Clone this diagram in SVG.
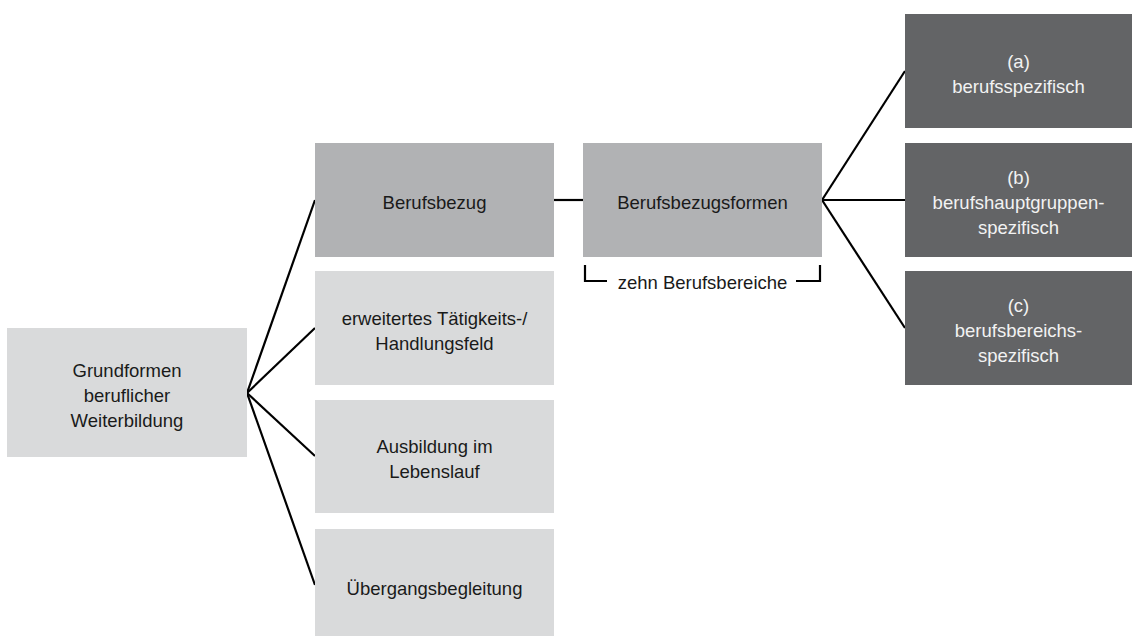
<svg xmlns="http://www.w3.org/2000/svg" width="1132" height="636" viewBox="0 0 1132 636">
<style>
  .t { font-family: "Liberation Sans", Arial, sans-serif; font-size: 18.5px; text-anchor: middle; fill: #1a1a1a; }
  .tw { font-family: "Liberation Sans", Arial, sans-serif; font-size: 18.5px; text-anchor: middle; fill: #f2f2f2; }
  .light { fill: #d9dadb; }
  .mid { fill: #b1b2b4; }
  .dark { fill: #636466; }
  .ln { stroke: #000; stroke-width: 2.2; fill: none; }
</style>
<rect width="1132" height="636" fill="#ffffff"/>
<g id="connectors">
  <line class="ln" x1="247" y1="393" x2="315" y2="200"/>
  <line class="ln" x1="247" y1="393" x2="315" y2="328"/>
  <line class="ln" x1="247" y1="393" x2="315" y2="456"/>
  <line class="ln" x1="247" y1="393" x2="315" y2="585"/>
  <line class="ln" x1="554" y1="200" x2="583" y2="200"/>
  <line class="ln" x1="822" y1="200" x2="905" y2="71"/>
  <line class="ln" x1="822" y1="200" x2="905" y2="200"/>
  <line class="ln" x1="822" y1="200" x2="905" y2="328"/>
</g>
<g id="grundformen">
  <rect class="light" x="7" y="328" width="240" height="129"/>
  <text class="t" x="127" y="376.5">Grundformen</text>
  <text class="t" x="127" y="401.5">beruflicher</text>
  <text class="t" x="127" y="426.5">Weiterbildung</text>
</g>
<g id="berufsbezug">
  <rect class="mid" x="315" y="143" width="239" height="114"/>
  <text class="t" x="434.5" y="209">Berufsbezug</text>
</g>
<g id="taetigkeitsfeld">
  <rect class="light" x="315" y="271" width="239" height="114"/>
  <text class="t" x="434.5" y="324.5">erweitertes Tätigkeits-/</text>
  <text class="t" x="434.5" y="349.5">Handlungsfeld</text>
</g>
<g id="ausbildung">
  <rect class="light" x="315" y="400" width="239" height="113"/>
  <text class="t" x="434.5" y="453">Ausbildung im</text>
  <text class="t" x="434.5" y="478">Lebenslauf</text>
</g>
<g id="uebergang">
  <rect class="light" x="315" y="529" width="239" height="114"/>
  <text class="t" x="434.5" y="595">Übergangsbegleitung</text>
</g>
<g id="berufsbezugsformen">
  <rect class="mid" x="583" y="143" width="239" height="114"/>
  <text class="t" x="702.5" y="209">Berufsbezugsformen</text>
</g>
<g id="berufsbereiche">
  <path class="ln" d="M585,265 V281 H607"/>
  <path class="ln" d="M796,281 H820 V265"/>
  <text class="t" x="702.5" y="289">zehn Berufsbereiche</text>
</g>
<g id="spez-a">
  <rect class="dark" x="905" y="14" width="227" height="114"/>
  <text class="tw" x="1018.5" y="67.5">(a)</text>
  <text class="tw" x="1018.5" y="92.5">berufsspezifisch</text>
</g>
<g id="spez-b">
  <rect class="dark" x="905" y="143" width="227" height="114"/>
  <text class="tw" x="1018.5" y="184">(b)</text>
  <text class="tw" x="1018.5" y="209">berufshauptgruppen-</text>
  <text class="tw" x="1018.5" y="234">spezifisch</text>
</g>
<g id="spez-c">
  <rect class="dark" x="905" y="271" width="227" height="114"/>
  <text class="tw" x="1018.5" y="312">(c)</text>
  <text class="tw" x="1018.5" y="337">berufsbereichs-</text>
  <text class="tw" x="1018.5" y="362">spezifisch</text>
</g>
</svg>
